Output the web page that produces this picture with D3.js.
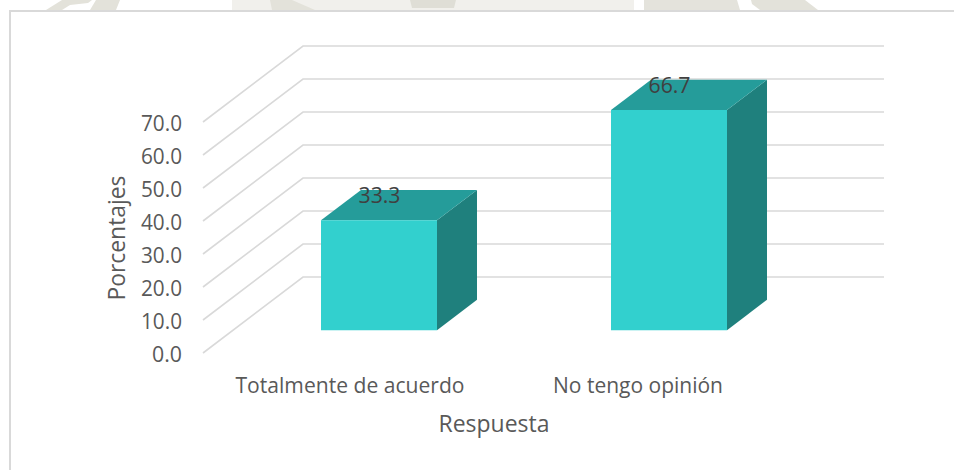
<!DOCTYPE html>
<html><head><meta charset="utf-8">
<script src="https://cdn.jsdelivr.net/npm/d3@7/dist/d3.min.js"></script>
<style>html,body{margin:0;background:#fff}svg{display:block}text{font-family:"Open Sans",sans-serif}</style>
</head><body><svg id="c" width="954" height="470"></svg>
<script>
const categories = ["Totalmente de acuerdo", "No tengo opinión"];
const values = [33.3, 66.7];
const valueLabels = ["33.3", "66.7"];
const yTicks = [0, 10, 20, 30, 40, 50, 60, 70];
const yTitle = "Porcentajes";
const xTitle = "Respuesta";

const svg = d3.select("#c");
const x = d3.scaleBand().domain(categories).range([204, 784]).paddingInner(0.6).paddingOuter(0.3);
const y = d3.scaleLinear().domain([0, 70]).range([353, 122]);
const dx = d3.scaleLinear().domain([0, 1]).range([0, 100]);
const dy = d3.scaleLinear().domain([0, 1]).range([0, -76]);
const pt = (px, v, d) => [px + dx(d), y(v) + dy(d)];
const line = d3.line();
const barFront = 0.3, barBack = 0.7;

// faint watermark remnants above the frame
const wm = svg.append("g");
[
 ["#e3e2da", [[62,0],[92,0],[88,3],[70,5],[62,10],[46,10]]],
 ["#e3e2da", [[96,0],[120,0],[116,10],[90,10]]],
 ["#f1f0ec", [[232,0],[634,0],[634,10],[232,10]]],
 ["#e3e2da", [[270,0],[292,0],[315,10],[272,10]]],
 ["#dfded6", [[410,0],[456,0],[454,8],[412,8]]],
 ["#e4e3dc", [[644,0],[737,0],[740,10],[644,10]]],
 ["#e3e2da", [[751,0],[805,0],[818,10],[760,10],[752,4]]]
].forEach(p => wm.append("path").attr("fill", p[0]).attr("d", line(p[1]) + "Z"));

// frame: only the top and left edges fall inside the picture
svg.append("path").attr("d", "M10,470V11H954").attr("fill", "none").attr("stroke", "#d9d9d9").attr("stroke-width", 2);

// gridlines on side wall and back wall
svg.append("g").selectAll("path").data(yTicks).join("path")
  .attr("d", v => line([pt(203, v, 0), pt(203, v, 1), pt(784, v, 1)]))
  .attr("fill", "none").attr("stroke", "#d9d9d9").attr("stroke-width", 1.6);

// y tick labels
svg.append("g").selectAll("text").data(yTicks).join("text")
  .attr("x", 182).attr("y", v => y(v) + 1).attr("dy", "0.35em").attr("text-anchor", "end")
  .attr("font-size", 21.5).attr("fill", "#595959").text(v => v.toFixed(1))
  .attr("textLength", v => v === 0 ? 30 : 41).attr("lengthAdjust", "spacingAndGlyphs");

// bars
const bars = svg.append("g").selectAll("g").data(categories).join("g");
bars.each(function (c, i) {
  const g = d3.select(this), v = values[i];
  const l = x(c), r = l + x.bandwidth();
  g.append("path").attr("fill", "#1f807d").attr("d", line([pt(r,0,barFront), pt(r,0,barBack), pt(r,v,barBack), pt(r,v,barFront)]) + "Z");
  g.append("path").attr("fill", "#259c9a").attr("d", line([pt(l,v,barFront), pt(r,v,barFront), pt(r,v,barBack), pt(l,v,barBack)]) + "Z");
  g.append("path").attr("fill", "#32d0ce").attr("d", line([pt(l,0,barFront), pt(r,0,barFront), pt(r,v,barFront), pt(l,v,barFront)]) + "Z");
  const top = pt((l + r) / 2, v, barBack);
  g.append("text").attr("x", top[0] - 39.5).attr("y", top[1] + 13).attr("text-anchor", "middle")
    .attr("font-size", 21.5).attr("fill", "#404040").attr("textLength", 42).attr("lengthAdjust", "spacingAndGlyphs").text(valueLabels[i]);
});

// category labels
svg.append("g").selectAll("text").data(categories).join("text")
  .attr("x", (c, i) => [350, 638][i]).attr("y", 393).attr("text-anchor", "middle")
  .attr("font-size", 21).attr("fill", "#595959")
  .attr("textLength", (c, i) => [229, 170][i]).attr("lengthAdjust", "spacingAndGlyphs").text(c => c);

// axis titles
svg.append("text").attr("x", 494).attr("y", 432).attr("text-anchor", "middle")
  .attr("font-size", 24).attr("fill", "#595959").attr("textLength", 111).attr("lengthAdjust", "spacingAndGlyphs").text(xTitle);
svg.append("text").attr("transform", "translate(125,238) rotate(-90)").attr("text-anchor", "middle")
  .attr("font-size", 24).attr("fill", "#595959").attr("textLength", 125).attr("lengthAdjust", "spacingAndGlyphs").text(yTitle);
</script></body></html>
